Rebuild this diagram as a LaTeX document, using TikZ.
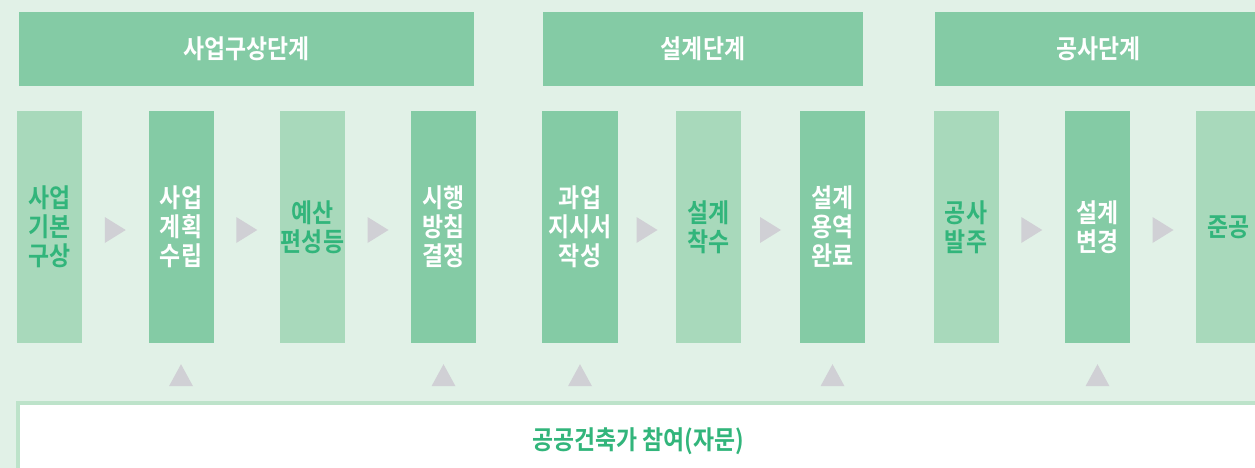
\documentclass[tikz,border=0pt]{standalone}
\usepackage{fontspec}
\newfontfamily\kr[BoldFont={Noto Sans CJK KR Bold},FakeStretch=0.88]{Noto Sans CJK KR}
\usetikzlibrary{positioning,calc}
\definecolor{bgmint}{HTML}{E1F1E7}
\definecolor{darkcol}{HTML}{84CBA5}
\definecolor{lightcol}{HTML}{A8D9BB}
\definecolor{txtgreen}{HTML}{32B57B}
\definecolor{trigray}{HTML}{D0D0D5}
\definecolor{boxline}{HTML}{BDE3CA}

\begin{document}
\begin{tikzpicture}[x=1pt,y=-1pt]
\tikzstyle{every node}+=[inner sep=0pt,font=\kr\bfseries\fontsize{26}{29}\selectfont]
\tikzstyle{head}=[fill=darkcol,text=white,minimum height=74pt]
\tikzstyle{dark}=[fill=darkcol,text=white,minimum width=65pt,minimum height=232pt,align=center]
\tikzstyle{light}=[fill=lightcol,text=txtgreen,minimum width=65pt,minimum height=232pt,align=center]
\useasboundingbox (0,0) rectangle (1255,468);
\clip (0,0) rectangle (1255,468);
\fill [bgmint] (0,0) rectangle (1255,468);
\node [head,minimum width=455pt] (h1) at (246.5,49) {사업구상단계};
\node [head,minimum width=320pt] (h2) at (703,49) {설계단계};
\node [head,minimum width=327pt] (h3) at (1098.5,49) {공사단계};
\node [light] (c1) at (49.5,227) {사업\\기본\\구상};
\node [dark] (c2) at (181,227) {사업\\계획\\수립};
\node [light] (c3) at (312.5,227) {예산\\편성등};
\node [dark] (c4) at (443.5,227) {시행\\방침\\결정};
\node [dark,minimum width=76pt] (c5) at (580,227) {과업\\지시서\\작성};
\node [light] (c6) at (708.5,227) {설계\\착수};
\node [dark] (c7) at (832.5,227) {설계\\용역\\완료};
\node [light] (c8) at (966,227) {공사\\발주};
\node [dark] (c9) at (1097.5,227) {설계\\변경};
\node [light] (c10) at (1228.5,227) {준공};
\foreach \a/\b in {c1/c2,c2/c3,c3/c4,c5/c6,c6/c7,c8/c9,c9/c10}
  \fill [trigray] ($(\a.east)!.5!(\b.west)+(-10.5,-10)$) -- ++(21,13) -- ++(-21,13) -- cycle;
\node [draw=boxline,line width=4pt,fill=white,text=txtgreen,minimum width=1241pt,minimum height=77pt] (panel) at (638,441.5) {공공건축가 참여(자문)};
\foreach \c in {c2,c4,c5,c7,c9}
  \fill [trigray] ($(\c.south)+(-12,43)$) -- ++(24,0) -- ++(-12,-22) -- cycle;
\end{tikzpicture}
\end{document}
